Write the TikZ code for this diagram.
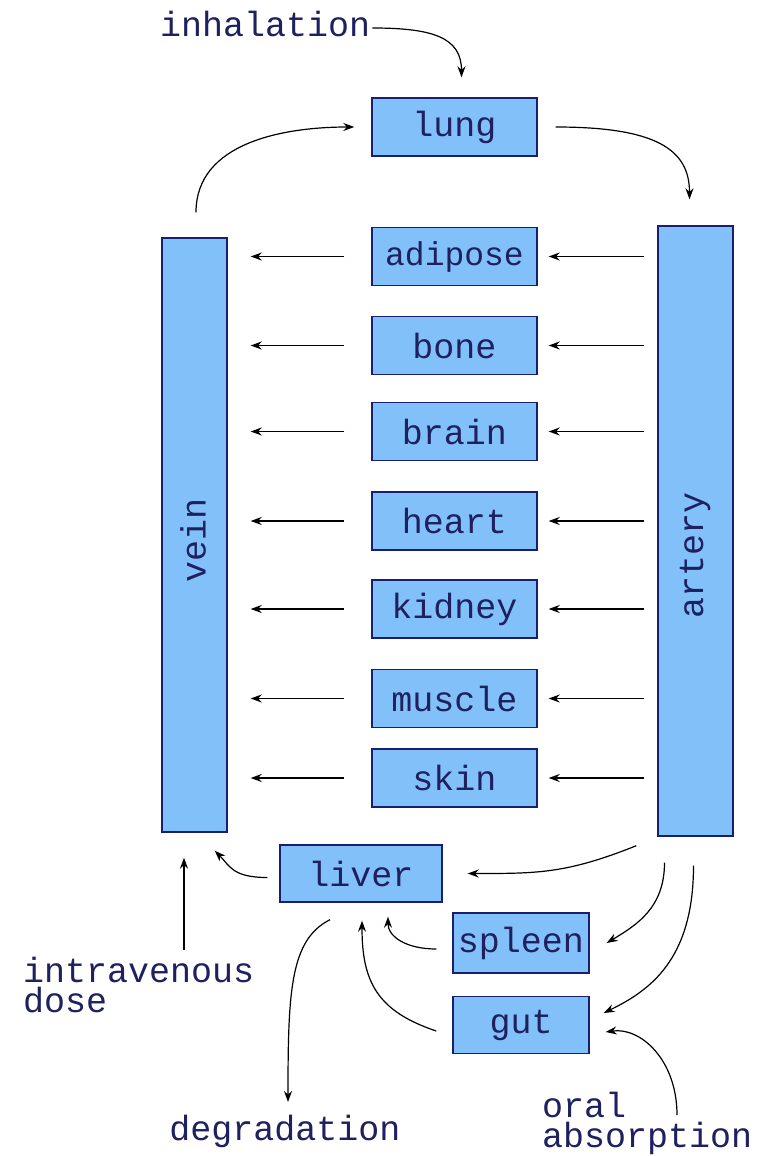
\documentclass[tikz,border=0pt]{standalone}
\usepackage{fontspec}
\newfontfamily\monof{Liberation Mono}
\usetikzlibrary{arrows.meta,calc}
\definecolor{boxfill}{RGB}{130,192,250}
\definecolor{boxline}{RGB}{25,30,110}
\definecolor{txtc}{RGB}{30,32,95}
\tikzset{
  organ/.style={draw=boxline, fill=boxfill, line width=1.4pt, minimum width=165pt, minimum height=58pt, inner sep=0pt, text=txtc, font=\monof\fontsize{35}{26}\selectfont},
  vessel/.style={draw=boxline, fill=boxfill, line width=1.4pt, inner sep=0pt, text=txtc, font=\monof\fontsize{35}{26}\selectfont},
  lbl/.style={text=txtc, inner sep=0pt, font=\monof\fontsize{35}{30}\selectfont},
  arr/.style={line width=1.2pt, -{Stealth[length=11pt,width=8pt]}},
}
\begin{document}
\begin{tikzpicture}[x=1pt,y=-1pt]
\useasboundingbox (0,0) rectangle (759,1156);
% nodes
\node[organ] (lung) at (454.5,127) {lung};
\node[organ] (adipose) at (454.5,256.5) {\fontsize{33}{26}\selectfont adipose};
\node[organ] (bone) at (454.5,345.5) {bone};
\node[organ] (brain) at (454.5,431.5) {brain};
\node[organ] (heart) at (454.5,521) {heart};
\node[organ] (kidney) at (454.5,609) {kidney};
\node[organ] (muscle) at (454.5,698.5) {muscle};
\node[organ] (skin) at (454.5,778) {skin};
\node[vessel, minimum width=65pt, minimum height=594pt] (vein) at (194.5,535) {};
\node[lbl, rotate=90] (veint) at (193,540) {vein};
\node[vessel, minimum width=75pt, minimum height=610pt] (artery) at (695.5,531) {};
\node[lbl, rotate=90] (arteryt) at (695,555) {artery};
\node[organ, minimum width=162pt, minimum height=57pt] (liver) at (361,873.5) {liver};
\node[organ, minimum width=136pt, minimum height=60pt] (spleen) at (521,943) {spleen};
\node[organ, minimum width=136pt, minimum height=57pt] (gut) at (521,1025) {gut};
% labels
\node[lbl, anchor=base west] (inh) at (160,37) {inhalation};
\node[lbl, anchor=base west, align=left] (ivd) at (23,1012) {intravenous\\dose};
\node[lbl, anchor=base] (degr) at (285,1140) {degradation};
\node[lbl, anchor=base west, align=left] (oral) at (542,1147) {oral\\absorption};
\coordinate (ivs) at (184,950);
\coordinate (ors) at (677,1115);
% organ arrows
\foreach \o in {adipose,bone,brain,heart,kidney,muscle,skin}{
  \draw[arr, shorten <=27pt, shorten >=23pt] (\o.west) -- (\o.west -| vein.east);
  \draw[arr, shorten <=13pt, shorten >=11pt] (\o.east -| artery.west) -- (\o.east);
}
% top curves
\draw[arr] ($(inh.base east)+(2,-9)$) .. controls +(60,0) and +(0,-40) .. ($(lung.north)+(7,-20)$);
\draw[arr] ($(vein.north)+(1.5,-25)$) .. controls +(0,-70) and +(-70,0) .. ($(lung.west)+(-17,0)$);
\draw[arr] ($(lung.east)+(18,0)$) .. controls +(100,0) and +(0,-50) .. ($(artery.north)+(-6,-26)$);
% bottom curves
\draw[arr] ($(liver.west)+(-12,4)$) .. controls +(-35,0) and +(15,15) .. ($(vein.south east)+(-13,18)$);
\draw[arr] (ivs) -- ($(ivs |- vein.south)+(0,25)$);
\draw[arr] ($(artery.south west)+(-21,9)$) .. controls +(-70,28) and +(70,0) .. ($(liver.east)+(25,0)$);
\draw[arr] ($(artery.south)+(-31,26)$) .. controls +(0,45) and +(30,-18) .. ($(spleen.east)+(17,0)$);
\draw[arr] ($(artery.south)+(-2,29)$) .. controls +(0,95) and +(45,-22) .. ($(gut.east)+(14,-12)$);
\draw[arr] ($(spleen.west)+(-16,6)$) .. controls +(-30,0) and +(0,20) .. ($(liver.south)+(27,14)$);
\draw[arr] ($(gut.west)+(-16,6)$) .. controls +(-60,-20) and +(0,60) .. ($(liver.south)+(1,18)$);
\draw[arr] ($(liver.south)+(-31,17)$) .. controls +(-40,20) and +(0,-110) .. (288,1102);
\draw[arr] (ors) .. controls +(0,-55) and +(35,-5) .. ($(gut.east)+(16,7)$);
\end{tikzpicture}
\end{document}
